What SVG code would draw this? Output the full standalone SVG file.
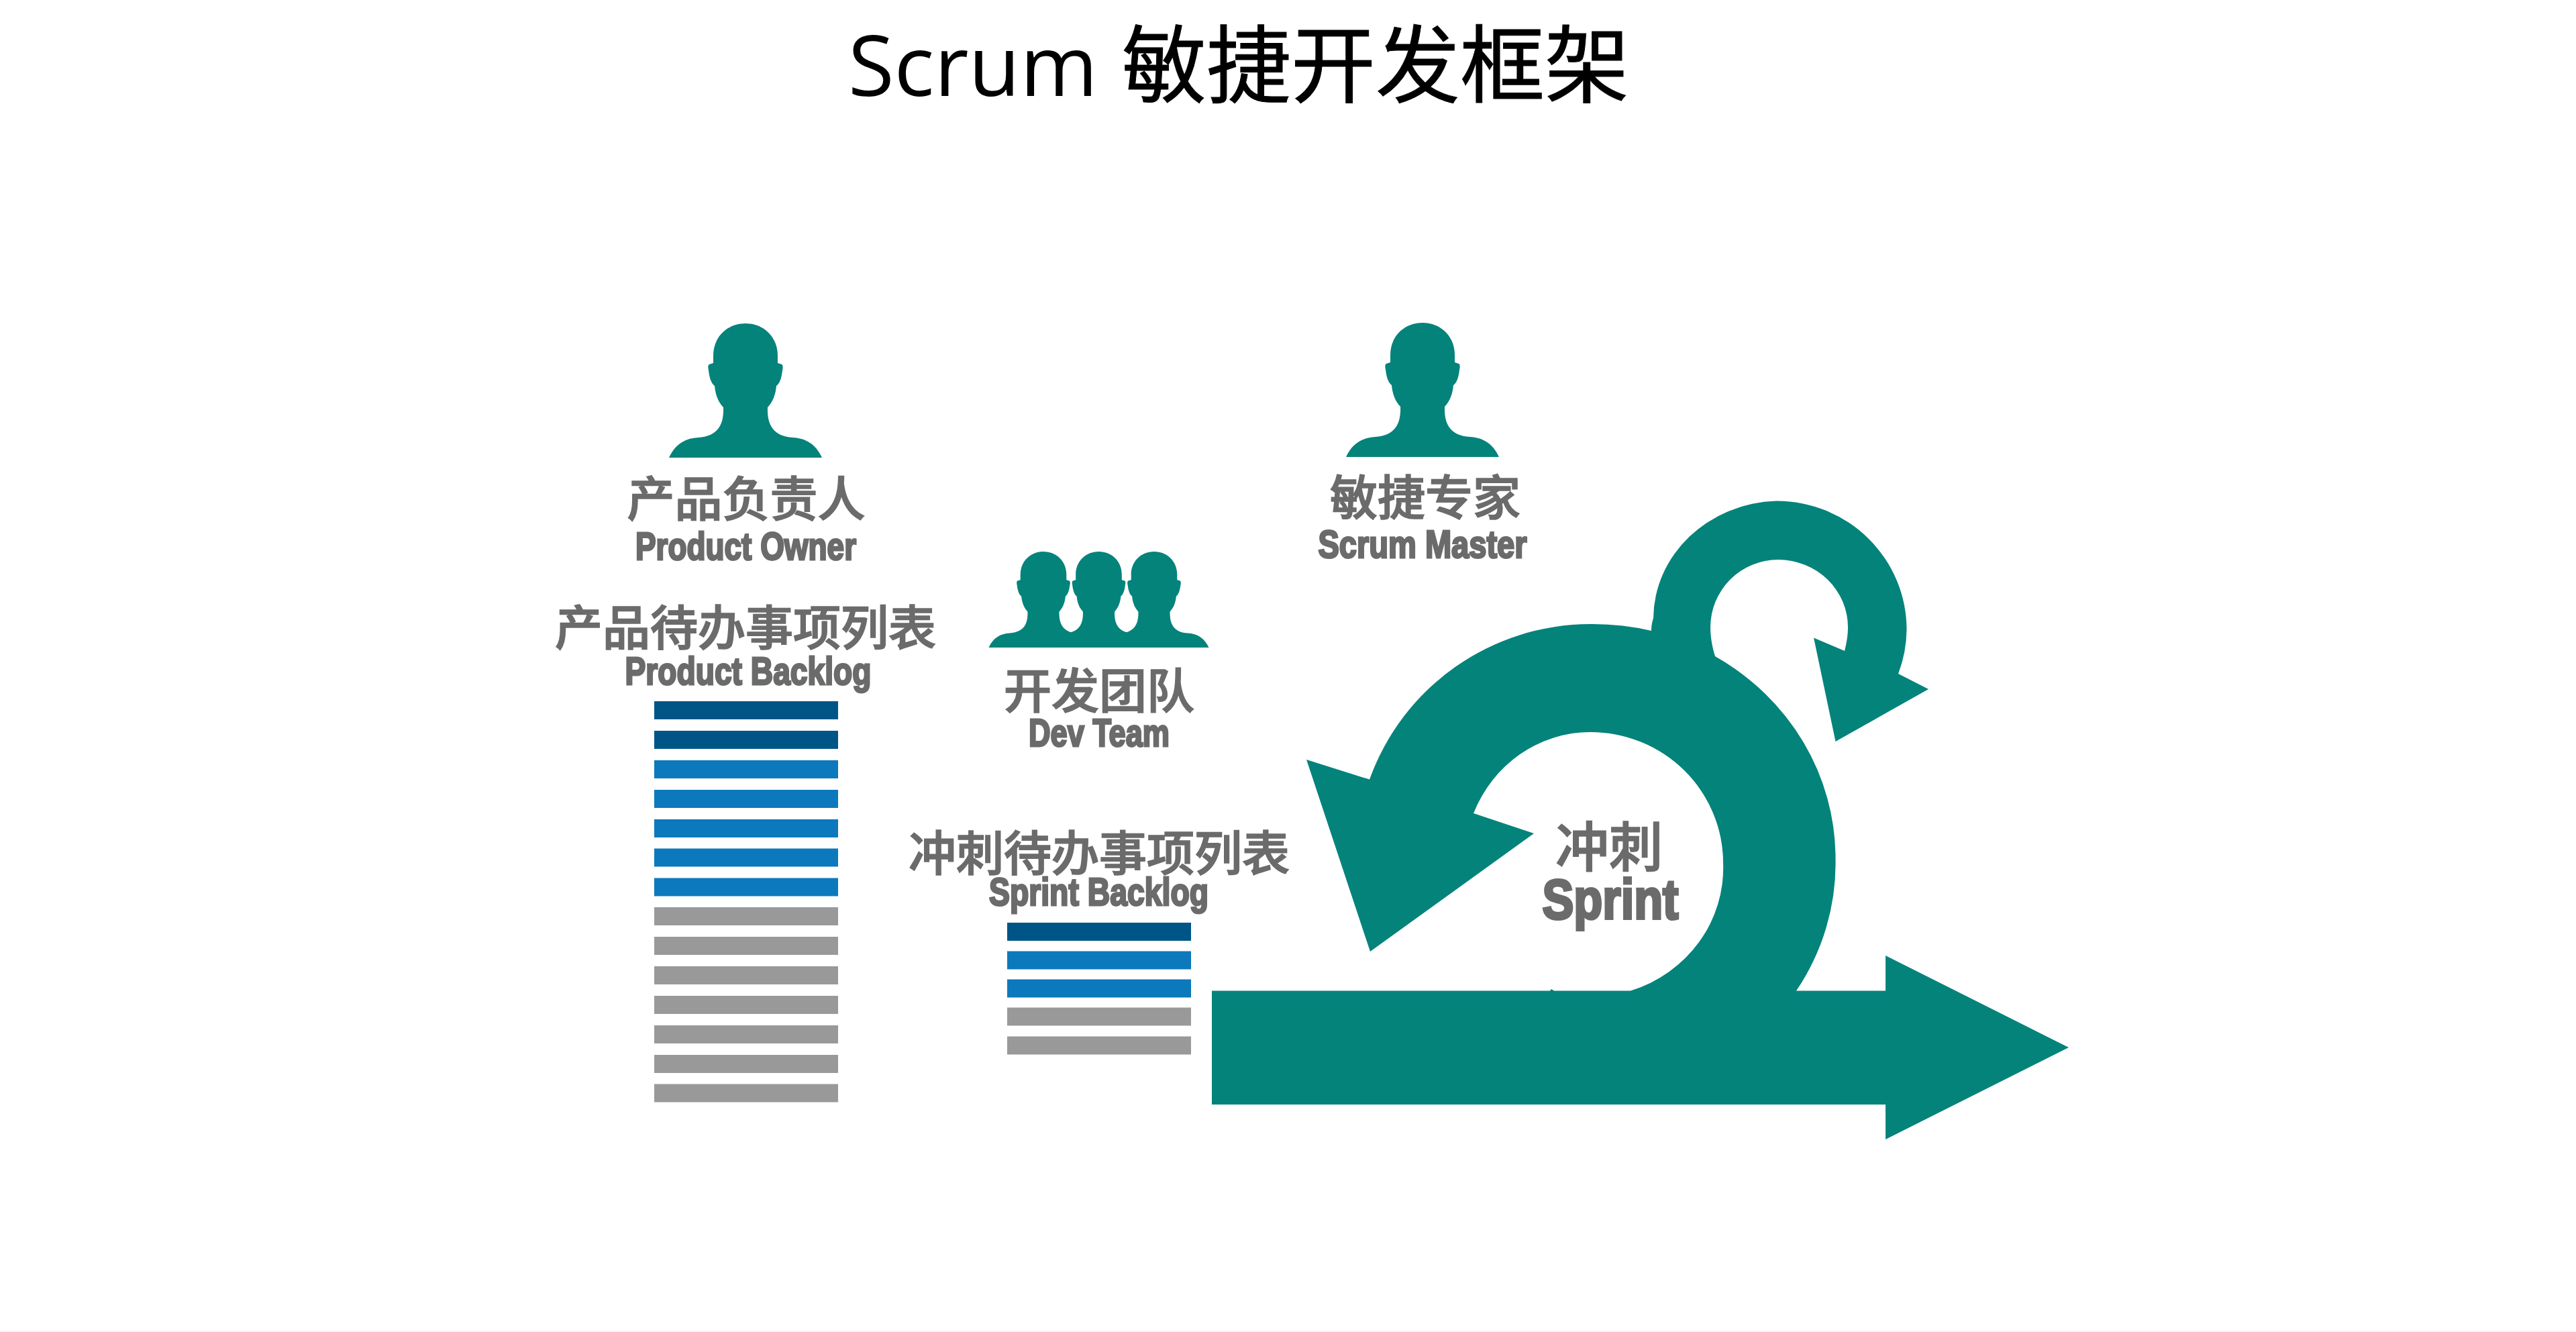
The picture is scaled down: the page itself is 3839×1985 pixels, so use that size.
<svg xmlns="http://www.w3.org/2000/svg" width="3839" height="1985" viewBox="0 0 3839 1985">
<style>
.teal{fill:#04837b}
.cn{font-family:"Noto Sans CJK SC","Liberation Sans",sans-serif;font-size:71px;font-weight:500;fill:#6b6b6b;stroke:#6b6b6b;stroke-width:1.6;text-anchor:middle}
.en{font-family:"Liberation Sans",Arial,sans-serif;font-size:58px;font-weight:700;fill:#6b6b6b;stroke:#6b6b6b;stroke-width:3;text-anchor:middle}
.title{font-family:"Open Sans","Noto Sans CJK SC",sans-serif;font-size:125px;fill:#000}
.d{fill:#005587}.b{fill:#0c79bd}.g{fill:#999}
</style>
<defs>
<path id="person" d="M0,0 C27,0 48,20 48,48 L48,59 L54,61 C56,62 56,66 55,70 C54,80 51,90 46,93 C45,105 41,117 33,125 C32,152 42,168 70,170 C90,171 105,180 114,200 L-114,200 C-105,180 -90,171 -70,170 C-42,168 -32,152 -33,125 C-41,117 -45,105 -46,93 C-51,90 -54,80 -55,70 C-56,66 -56,62 -54,61 L-48,59 L-48,48 C-48,20 -27,0 0,0 Z"/>
<rect id="bar" width="274" height="27"/>
</defs>
<rect width="3839" height="1985" fill="#fff"/>
<rect id="bottom-edge" y="1983" width="3839" height="2" fill="#f3f3f3"/>
<text id="title" class="title" x="1264" y="143">Scrum <tspan x="1672" font-size="126" stroke="#000" stroke-width="1">敏捷开发框架</tspan></text>
<g id="product-owner">
<use href="#person" class="teal" transform="translate(1111,482)"/>
<text class="cn" x="1112" y="769">产品负责人</text>
<text class="en" x="1111.5" y="834" textLength="329" lengthAdjust="spacingAndGlyphs">Product Owner</text>
</g>
<g id="scrum-master">
<use href="#person" class="teal" transform="translate(2120,481)"/>
<text class="cn" x="2124" y="767">敏捷专家</text>
<text class="en" x="2120" y="831" textLength="311" lengthAdjust="spacingAndGlyphs">Scrum Master</text>
</g>
<g id="dev-team">
<use href="#person" class="teal" transform="translate(1555,822) scale(.715)"/>
<use href="#person" class="teal" transform="translate(1637.5,822) scale(.715)"/>
<use href="#person" class="teal" transform="translate(1720,822) scale(.715)"/>
<text class="cn" x="1638" y="1055">开发团队</text>
<text class="en" x="1638" y="1112" textLength="210" lengthAdjust="spacingAndGlyphs">Dev Team</text>
</g>
<g id="product-backlog">
<text class="cn" x="1111" y="961">产品待办事项列表</text>
<text class="en" x="1115" y="1020" textLength="367" lengthAdjust="spacingAndGlyphs">Product Backlog</text>
<use href="#bar" class="d" x="975" y="1045"/>
<use href="#bar" class="d" x="975" y="1089"/>
<use href="#bar" class="b" x="975" y="1133"/>
<use href="#bar" class="b" x="975" y="1177"/>
<use href="#bar" class="b" x="975" y="1221"/>
<use href="#bar" class="b" x="975" y="1264.5"/>
<use href="#bar" class="b" x="975" y="1308.5"/>
<use href="#bar" class="g" x="975" y="1352"/>
<use href="#bar" class="g" x="975" y="1396"/>
<use href="#bar" class="g" x="975" y="1440"/>
<use href="#bar" class="g" x="975" y="1484"/>
<use href="#bar" class="g" x="975" y="1528"/>
<use href="#bar" class="g" x="975" y="1572"/>
<use href="#bar" class="g" x="975" y="1615.5"/>
</g>
<g id="sprint-backlog">
<text class="cn" x="1638" y="1297">冲刺待办事项列表</text>
<text class="en" x="1637.5" y="1349" textLength="327" lengthAdjust="spacingAndGlyphs">Sprint Backlog</text>
<use href="#bar" class="d" x="1501" y="1375"/>
<use href="#bar" class="b" x="1501" y="1417.5"/>
<use href="#bar" class="b" x="1501" y="1459.5"/>
<use href="#bar" class="g" x="1501" y="1501.5"/>
<use href="#bar" class="g" x="1501" y="1544.5"/>
</g>
<g id="sprint">
<path class="teal" d="M1806,1476.5 H2310 L2312,1474 L2316,1476.5 H2430 A198,192 0 0 0 2568,1286 A198,195 0 0 0 2370,1091 A188,195 0 0 0 2196,1212 L2286,1242 L2042,1418 L1947,1132 L2041,1161.6 A350,350 0 0 1 2370,930 A365,350 0 0 1 2461,940 C2461,930 2463,925 2464,921 A190,176 0 0 1 2647.5,746.5 A194,192 0 0 1 2841.5,938.5 A194,192 0 0 1 2829,1004 L2874,1027 L2735.5,1105 L2703,950.5 L2749,970 C2752,958 2754,946 2754,935 A104,101 0 0 0 2650,834 A101,101 0 0 0 2549,935 C2549,950 2552,965 2556,978 A365,350 0 0 1 2735.5,1280 A365,350 0 0 1 2677,1476.5 H2810 V1424 L3083,1561 L2810,1698 V1646 H1806 Z"/>
<text class="cn" style="font-size:80px" x="2398" y="1291">冲刺</text>
<text class="en" style="font-size:84px;stroke-width:4" x="2400" y="1369" textLength="203" lengthAdjust="spacingAndGlyphs">Sprint</text>
</g>
</svg>
